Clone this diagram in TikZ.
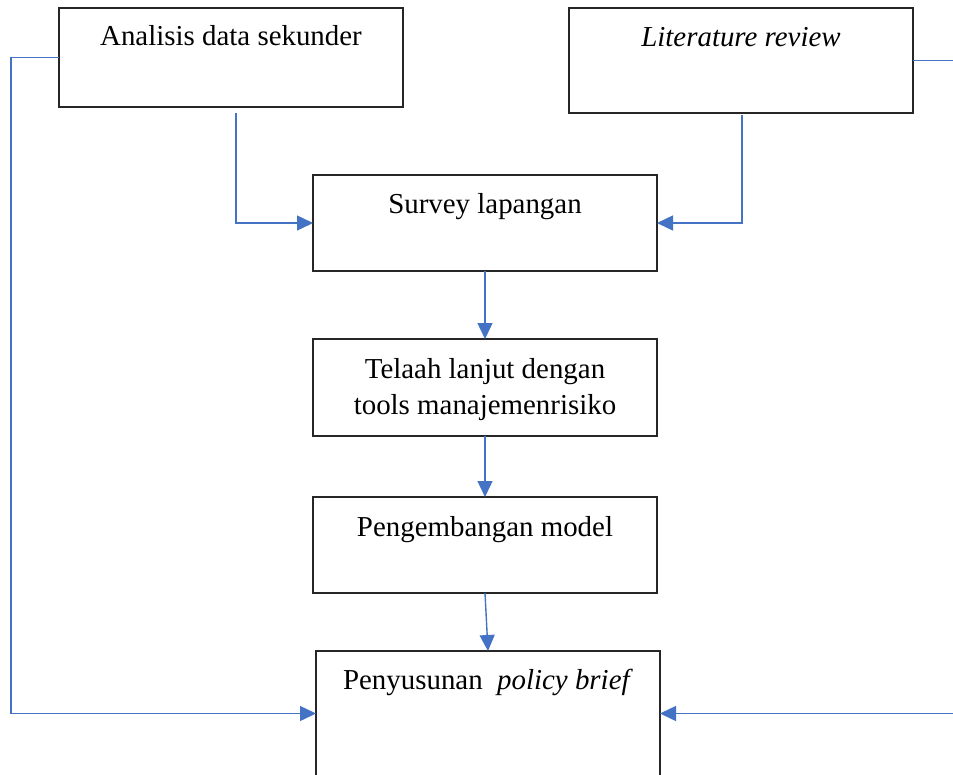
\documentclass[tikz,border=0pt]{standalone}
\usepackage{fontspec}
\setmainfont{Liberation Serif}
\usetikzlibrary{arrows.meta,calc}
\definecolor{flowblue}{HTML}{4472C4}
\begin{document}
\begin{tikzpicture}[x=1pt,y=-1pt,
  stepbox/.style={draw=black!85,line width=1.2pt,fill=white,inner sep=0pt,outer sep=0pt},
  caption/.style={anchor=base,inner sep=0pt,font=\fontsize{28.9}{37}\selectfont},
  flow/.style={draw=flowblue,line width=1.4pt,-{Triangle[length=16pt,width=15pt]}}]
\useasboundingbox (0,0) rectangle (953,774);
\clip (0,0) rectangle (953,774);

% boxes (centre, width, height)
\node[stepbox,minimum width=344pt,minimum height=99pt]  (A) at (231,57.5) {};
\node[stepbox,minimum width=344pt,minimum height=105pt] (L) at (741,60.5) {};
\node[stepbox,minimum width=344pt,minimum height=96pt]  (S) at (485,223) {};
\node[stepbox,minimum width=344pt,minimum height=97pt]  (T) at (485,387.5) {};
\node[stepbox,minimum width=344pt,minimum height=96pt]  (P) at (485,545) {};
\node[stepbox,minimum width=344pt,minimum height=125pt] (B) at (488,713.5) {};

% labels, set near the top of each box
\node[caption] (tA) at (231,45) {Analisis data sekunder};
\node[caption] (tL) at (741,46) {\itshape Literature review};
\node[caption] (tS) at (485,213) {Survey lapangan};
\node[caption] (tT1) at (485,378) {Telaah lanjut dengan};
\node[caption] (tT2) at (485,414) {tools manajemenrisiko};
\node[caption] (tP) at (485,536) {Pengembangan model};
\node[caption] (tB) at (488,689) {Penyusunan\ \ \textit{policy brief}};

% connectors
\draw[flow] ($(A.south)+(5,6)$) |- (S.west);
\draw[flow] ($(L.south)+(1,2)$) |- (S.east);
\draw[flow] (S.south) -- (T.north);
\draw[flow] (T.south) -- (P.north);
\draw[flow] (P.south) -- (B.north);
\draw[flow] (A.west) -- ++(-48,0) |- (B.west);
\draw[flow] (L.east) -- ++(47,0) |- (B.east);
\end{tikzpicture}
\end{document}
